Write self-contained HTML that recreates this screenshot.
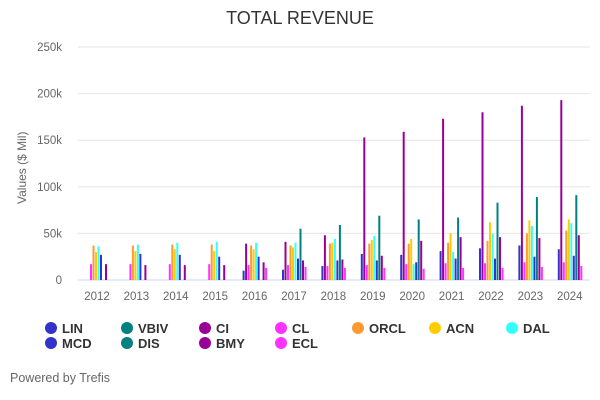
<!DOCTYPE html>
<html><head><meta charset="utf-8"><style>
body{margin:0;background:#fff;font-family:"Liberation Sans",sans-serif}
#c{position:relative;width:600px;height:400px;overflow:hidden}
.lg{position:absolute;font-size:13px;font-weight:bold;color:#333}
.lg i{position:absolute;left:-17px;top:1px;width:12px;height:12px;border-radius:50%}
</style></head><body><div id="c">
<div style="position:absolute;top:8px;width:600px;text-align:center;font-size:18px;color:#333">TOTAL REVENUE</div>
<div style="position:absolute;left:15px;top:204px;transform:rotate(-90deg);transform-origin:0 0;font-size:12px;color:#666;white-space:nowrap">Values ($ Mil)</div>
<svg id="s" width="600" height="400" style="position:absolute;left:0;top:0"></svg>
<div style="position:absolute;left:10px;top:371px;font-size:12.5px;color:#666">Powered by Trefis</div>
</div>
<script>
const s=document.getElementById('s');let h='';
const y0=280,k=233/250;
for(let i=0;i<=5;i++){const y=y0-i*50*k;h+=`<line x1="78" x2="590" y1="${y}" y2="${y}" stroke="${i?'#e6e6e6':'#ccd6eb'}"/>`;
h+=`<text x="62" y="${y+4}" text-anchor="end" font-size="11.5" fill="#666" font-family="Liberation Sans">${i?i*50+'k':0}</text>`;}
const S={LIN:['#3333cc',[0,0,0,0,10,11,15,28,27,31,34,37,33]],
CI:['#990099',[0,0,0,0,39,41,48,153,159,173,180,187,193]],
CL:['#ff33ff',[17,17,17,17,16,16,15,16,17,18,18,19,19]],
ORCL:['#ff9933',[37,37,38,38,37,37,39,39,39,40,42,50,53]],
ACN:['#ffcc00',[30,31,33,31,33,35,40,43,44,50,62,64,65]],
DAL:['#33ffff',[36,38,40,41,40,40,44,47,17,30,50,58,61]],
MCD:['#3333cc',[27,28,27,25,25,23,21,21,19,23,23,25,26]],
DIS:['#008080',[0,0,0,0,0,55,59,69,65,67,83,89,91]],
BMY:['#990099',[17,16,16,16,19,21,22,26,42,46,46,45,48]],
ECL:['#ff33ff',[0,0,0,0,13,14,13,13,12,13,13,14,15]]};
const keys=Object.keys(S);
for(let yr=0;yr<13;yr++){const cx=97+yr*39.4;
keys.forEach((n,j)=>{const v=S[n][1][yr];if(!v)return;const x=cx-12+j*2.5;
h+=`<rect x="${x}" y="${y0-v*k}" width="2" height="${v*k}" fill="${S[n][0]}"/>`;});
h+=`<text x="${cx}" y="300" text-anchor="middle" font-size="11.5" fill="#666" font-family="Liberation Sans">${2012+yr}</text>`;}
s.innerHTML=h;
const L=[['LIN','#3333cc',62,321],['MCD','#3333cc',62,336],['VBIV','#008080',138,321],['DIS','#008080',138,336],['CI','#990099',216,321],['BMY','#990099',216,336],['CL','#ff33ff',292,321],['ECL','#ff33ff',292,336],['ORCL','#ff9933',369,321],['ACN','#ffcc00',446,321],['DAL','#33ffff',523,321]];
const c=document.getElementById('c');
L.forEach(l=>{const d=document.createElement('div');d.className='lg';d.style.left=l[2]+'px';d.style.top=l[3]+'px';d.innerHTML=`<i style="background:${l[1]}"></i>${l[0]}`;c.appendChild(d);});
</script></body></html>
